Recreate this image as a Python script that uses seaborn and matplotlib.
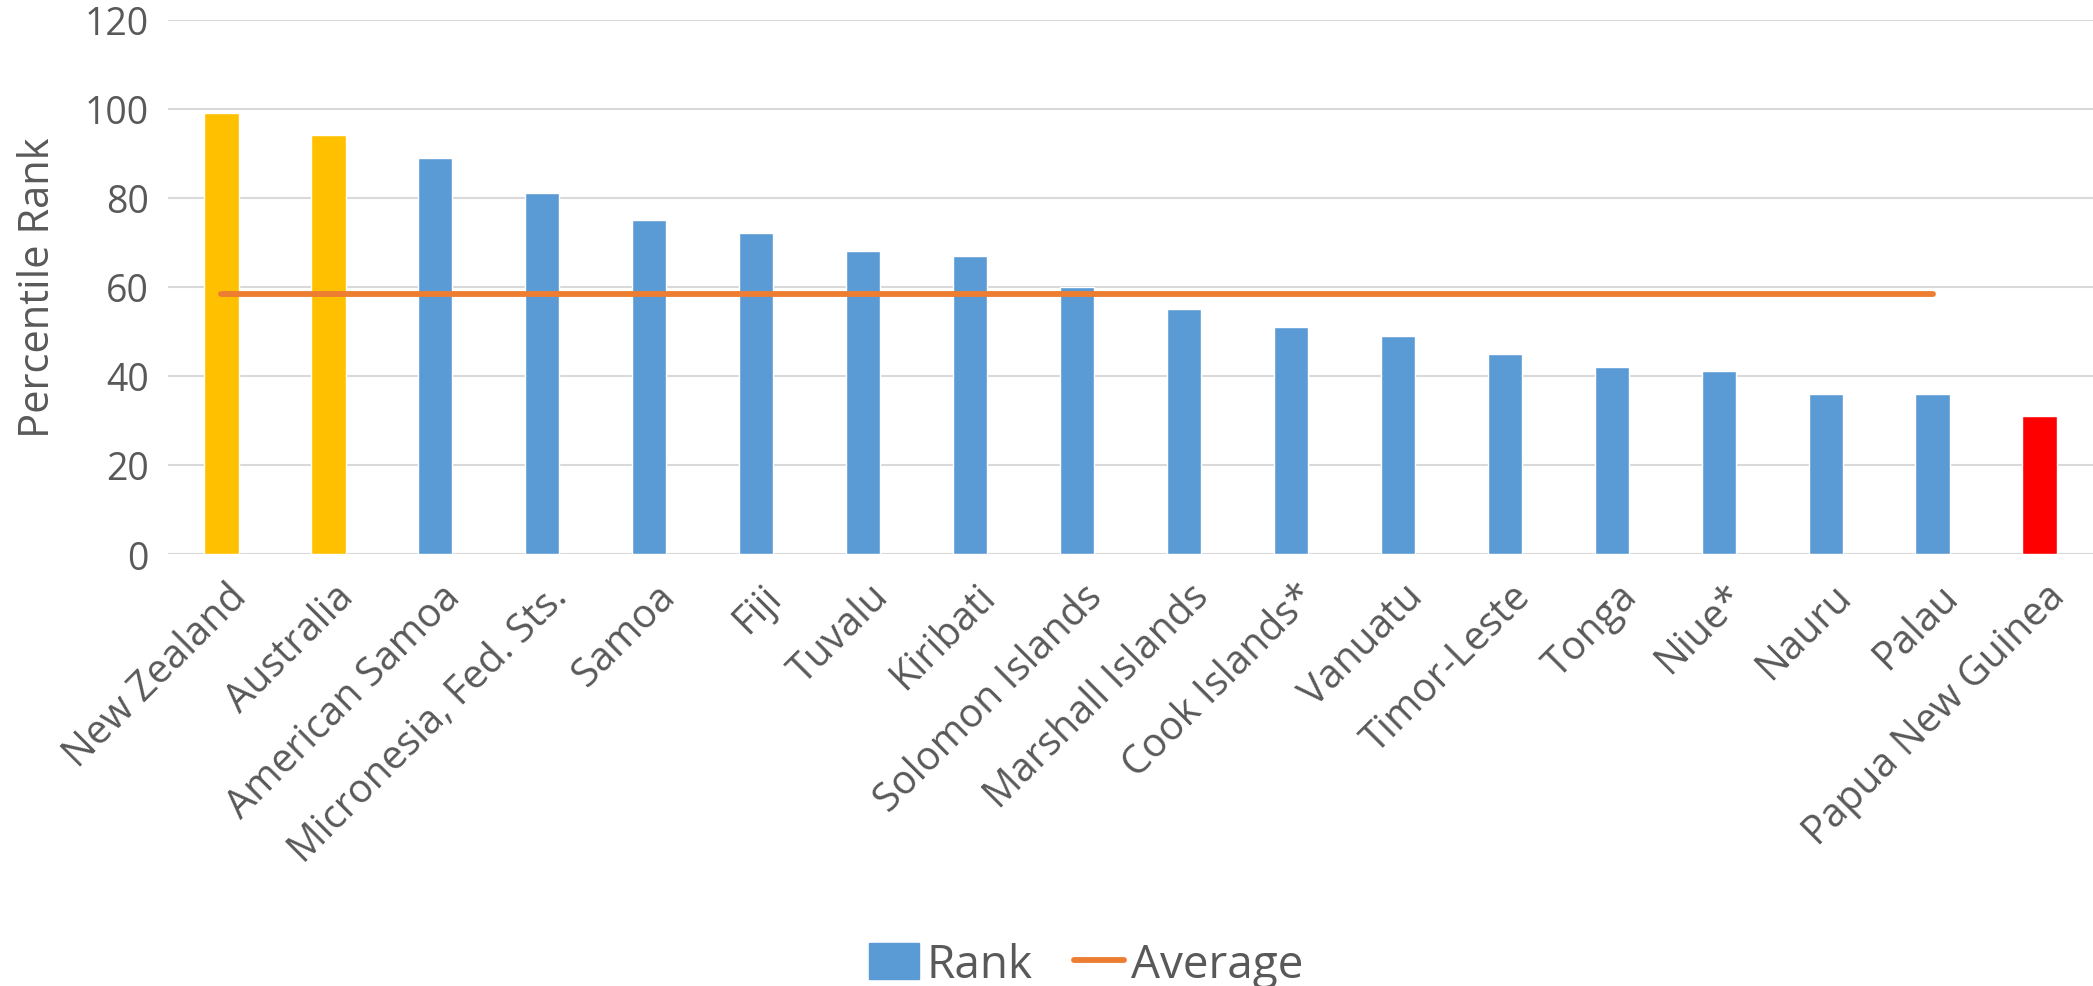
import numpy as np
import pandas as pd
import matplotlib
matplotlib.use("Agg")
import matplotlib.pyplot as plt
import seaborn as sns
from matplotlib.patches import Patch
from matplotlib.lines import Line2D

# percentile rank per country
countries = ['New Zealand', 'Australia', 'American Samoa', 'Micronesia, Fed. Sts.',
             'Samoa', 'Fiji', 'Tuvalu', 'Kiribati', 'Solomon Islands',
             'Marshall Islands', 'Cook Islands*', 'Vanuatu', 'Timor-Leste',
             'Tonga', 'Niue*', 'Nauru', 'Palau', 'Papua New Guinea']
rank = [99, 94, 89, 81, 75, 72, 68, 67, 60, 55, 51, 49, 45, 42, 41, 36, 36, 31]
average = [58.4] * 17 + [np.nan]   # line stops at Palau
bar_colors = ['#FFC000', '#FFC000'] + ['#5B9BD5'] * 15 + ['#FF0000']
yticks = [0, 20, 40, 60, 80, 100, 120]

df = pd.DataFrame({'Country': countries, 'Rank': rank, 'Average': average})
df['pos'] = np.arange(len(df))

sns.set_style("white")
plt.rcParams['font.family'] = ['Open Sans', 'DejaVu Sans']
grey = '#595959'

fig = plt.figure(figsize=(20.93, 9.87), dpi=100)
ax = fig.add_axes([168 / 2093, 1 - 555 / 987, 1 - 168 / 2093, (555 - 20.5) / 987])

sns.barplot(data=df, x='pos', y='Rank', hue='pos', palette=bar_colors,
            legend=False, width=0.32, saturation=1, ax=ax, zorder=2)
sns.lineplot(data=df, x='pos', y='Average', color='#ED7D31', linewidth=4.2,
             solid_capstyle='round', ax=ax, zorder=3)

ax.set_xlim(-0.5, len(df) - 0.5)
ax.set_ylim(0, 120)
ax.set_yticks(yticks)
ax.set_yticklabels([str(t) for t in yticks], fontsize=27, color=grey)
ax.set_xticks(df['pos'] + 0.05)
ax.set_xticklabels(countries, rotation=45, ha='right', va='top',
                   rotation_mode='anchor', fontsize=28.5, color=grey)
ax.tick_params(axis='y', length=0, pad=14)
ax.tick_params(axis='x', length=0, pad=16)
ax.yaxis.grid(True, color='#D9D9D9', linewidth=1.5, zorder=0)
ax.set_axisbelow(True)
for s in ax.spines.values():
    s.set_visible(False)
ax.axhline(0, color='#D9D9D9', linewidth=2, zorder=1)

ax.set_xlabel('')
ax.set_ylabel('Percentile Rank', fontsize=30, color=grey, labelpad=18)

handles = [Patch(color='#5B9BD5', label='Rank'),
           Line2D([0], [0], color='#ED7D31', linewidth=4.2, solid_capstyle='round', label='Average')]
fig.legend(handles=handles, loc='center', bbox_to_anchor=(1086 / 2093, 1 - 966 / 987), ncol=2,
           frameon=False, labelcolor=grey, handlelength=1.1,
           handleheight=0.85, handletextpad=0.15, columnspacing=0.9,
           prop={'size': 33})

fig.savefig('out.png', dpi=100)
